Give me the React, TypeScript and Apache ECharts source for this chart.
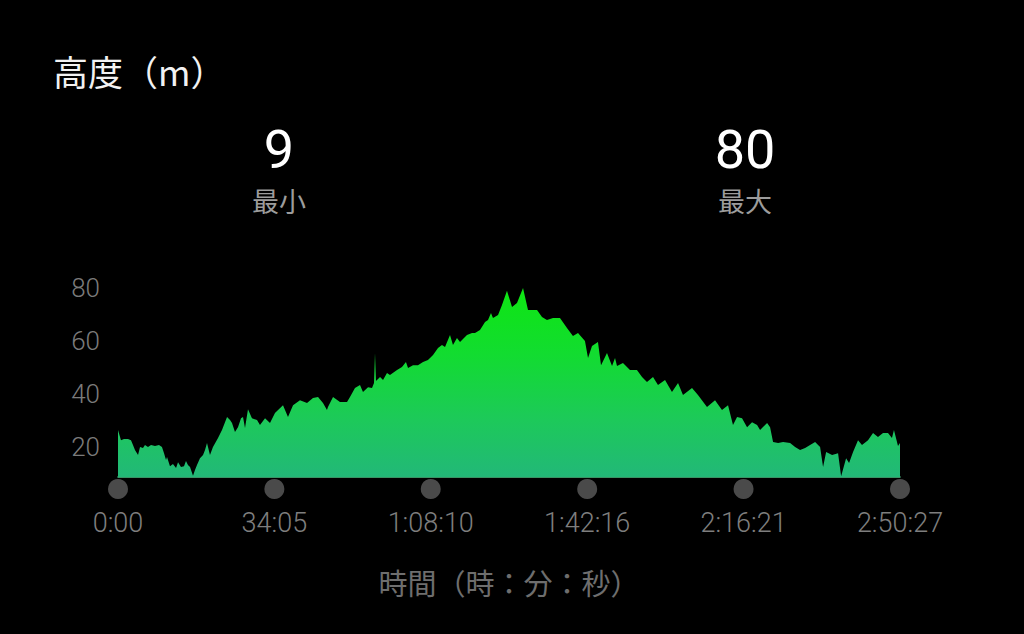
import React, { useEffect, useRef } from "react";
import * as echarts from "echarts";

const chartTitle = "高度（m）";
const xAxisTitle = "時間（時：分：秒）";
const statLabels = ["最小", "最大"];

const timeSeconds = [
  0, 39, 78, 131, 170, 196, 222, 262, 288, 327, 353, 392, 432, 484, 536, 575,
  602, 628, 641, 680, 719, 759, 785, 824, 863, 889, 915, 942, 981, 1007, 1033,
  1072, 1112, 1138, 1164, 1203, 1242, 1308, 1360, 1426, 1465, 1491, 1530, 1569,
  1609, 1635, 1661, 1700, 1752, 1818, 1857, 1923, 1988, 2053, 2093, 2158, 2223,
  2289, 2380, 2472, 2550, 2616, 2681, 2733, 2746, 2812, 2903, 2995, 3034, 3099,
  3165, 3204, 3270, 3322, 3348, 3361, 3374, 3427, 3466, 3518, 3557, 3649, 3714,
  3766, 3793, 3858, 3923, 3989, 4054, 4120, 4185, 4237, 4277, 4342, 4381, 4433,
  4473, 4564, 4630, 4669, 4734, 4800, 4839, 4878, 4904, 4970, 5022, 5087, 5153,
  5218, 5297, 5362, 5480, 5545, 5610, 5689, 5780, 5872, 5950, 6016, 6107, 6147,
  6199, 6277, 6317, 6395, 6461, 6500, 6526, 6604, 6696, 6787, 6853, 6918, 6997,
  7062, 7154, 7245, 7324, 7389, 7507, 7585, 7703, 7808, 7899, 7978, 8043, 8096,
  8161, 8227, 8292, 8358, 8397, 8489, 8528, 8567, 8633, 8698, 8790, 8855, 8920,
  8986, 9051, 9117, 9182, 9221, 9261, 9339, 9417, 9457, 9522, 9561, 9613, 9678,
  9730, 9809, 9874, 9939, 10005, 10070, 10122, 10148, 10201, 10227,
];

const elevation = [
  26.4, 22.6, 23.0, 23.0, 22.6, 20.8, 18.9, 17.0, 20.0, 19.6, 20.8, 20.0, 20.8,
  20.4, 20.8, 20.0, 17.7, 15.1, 16.2, 12.8, 13.6, 12.1, 14.3, 12.5, 12.8, 14.7,
  13.2, 12.5, 9.2, 11.3, 13.2, 15.8, 17.0, 18.9, 21.5, 17.0, 20.0, 23.4, 26.4,
  31.3, 30.2, 29.1, 25.7, 27.5, 30.9, 31.3, 27.2, 34.3, 30.9, 30.2, 28.3, 30.9,
  29.1, 32.8, 34.0, 35.8, 31.3, 35.8, 37.7, 36.6, 38.5, 38.9, 36.6, 34.0, 35.1,
  38.9, 37.0, 37.0, 38.9, 42.3, 43.4, 40.8, 42.6, 42.3, 44.2, 55.5, 44.9, 46.4,
  45.3, 47.9, 47.2, 49.1, 50.2, 52.1, 49.8, 50.9, 50.9, 52.1, 52.8, 54.7, 57.4,
  58.5, 57.7, 62.3, 58.5, 61.1, 59.6, 62.3, 63.0, 63.0, 64.2, 67.2, 67.9, 70.6,
  68.7, 69.8, 73.6, 79.0, 72.8, 74.3, 80.0, 71.7, 71.7, 69.1, 67.9, 68.7, 68.7,
  64.9, 61.9, 63.0, 60.0, 53.6, 58.1, 59.6, 50.9, 55.5, 50.6, 53.6, 50.6, 51.7,
  49.1, 49.1, 46.4, 44.5, 46.4, 43.4, 45.3, 40.8, 44.2, 39.6, 42.3, 39.6, 35.1,
  37.7, 34.0, 35.8, 28.3, 31.3, 30.9, 27.5, 29.4, 28.3, 26.4, 29.1, 27.5, 21.9,
  21.5, 21.9, 21.5, 20.0, 18.9, 19.6, 20.8, 21.9, 20.0, 12.5, 18.1, 17.0, 17.7,
  9.0, 15.8, 14.0, 18.1, 22.6, 20.8, 22.6, 25.3, 23.8, 25.3, 25.3, 23.4, 26.4,
  20.4, 21.5,
];

const xTickSeconds = [0, 2045, 4090, 6136, 8181, 10227];
const xTickLabels = ["0:00", "34:05", "1:08:10", "1:42:16", "2:16:21", "2:50:27"];
const yTickValues = [20, 40, 60, 80];

export default function App() {
  const ref = useRef<HTMLDivElement>(null);

  useEffect(() => {
    document.body.style.margin = "0";
    document.body.style.background = "#000";
    const chart = echarts.init(ref.current!, undefined, { renderer: "svg" });
    const yMin = 8.7;
    const minVal = Math.round(Math.min(...elevation));
    const maxVal = Math.round(Math.max(...elevation));
    const statValues = [minVal, maxVal];
    const statX = [279, 745];

    chart.setOption({
      animation: false,
      backgroundColor: "#000000",
      grid: { left: 118, right: 124, top: 282.7, bottom: 157, containLabel: false },
      xAxis: {
        type: "value",
        min: 0,
        max: 10227,
        name: xAxisTitle,
        nameLocation: "middle",
        nameGap: 90,
        nameTextStyle: {
          color: "#6e6e6e",
          fontSize: 29,
          fontFamily: "Noto Sans CJK JP",
        },
        axisLine: { show: true, lineStyle: { color: "#4cc486", width: 1.5 } },
        axisTick: { show: false },
        splitLine: { show: false },
        axisLabel: {
          customValues: xTickSeconds,
          formatter: (v: number) => {
            const i = xTickSeconds.indexOf(v);
            return i >= 0 ? xTickLabels[i] : "";
          },
          color: "#7e7e7e",
          fontSize: 27,
          fontFamily: "Roboto",
          fontWeight: 300,
          margin: 32,
          showMinLabel: true,
          showMaxLabel: true,
        },
      },
      yAxis: {
        type: "value",
        min: yMin,
        max: 82,
        axisLine: { show: false },
        axisTick: { show: false },
        splitLine: { show: false },
        axisLabel: {
          customValues: yTickValues,
          color: "#7b7b7b",
          fontSize: 26,
          fontFamily: "Roboto",
          fontWeight: 300,
          margin: 18,
        },
      },
      graphic: [
        {
          type: "text",
          left: 53,
          top: 53,
          style: {
            text: chartTitle,
            fill: "#f2f2f2",
            fontSize: 35,
            fontFamily: "Noto Sans CJK JP",
          },
        },
        ...statValues.map((v, i) => ({
          type: "text",
          x: statX[i],
          y: 149,
          style: {
            text: String(v),
            fill: "#ffffff",
            fontSize: 54,
            fontFamily: "Roboto",
            align: "center",
            verticalAlign: "middle",
          },
        })),
        ...statLabels.map((s, i) => ({
          type: "text",
          x: statX[i],
          y: 200,
          style: {
            text: s,
            fill: "#9c9c9c",
            fontSize: 27,
            fontFamily: "Noto Sans CJK JP",
            align: "center",
            verticalAlign: "middle",
          },
        })),
      ],
      series: [
        {
          type: "line",
          data: timeSeconds.map((t, i) => [t, elevation[i]]),
          showSymbol: false,
          symbol: "none",
          lineStyle: { width: 0 },
          areaStyle: {
            origin: "start",
            opacity: 1,
            color: new echarts.graphic.LinearGradient(0, 0, 0, 1, [
              { offset: 0, color: "#0ee612" },
              { offset: 0.35, color: "#12dc30" },
              { offset: 0.7, color: "#1dc95a" },
              { offset: 1, color: "#22b878" },
            ]),
          },
          z: 2,
        },
        {
          type: "scatter",
          data: xTickSeconds.map((t) => [t, yMin]),
          symbol: "circle",
          symbolSize: 20,
          symbolOffset: [0, 12],
          itemStyle: { color: "#5c5c5c" },
          clip: false,
          silent: true,
          z: 3,
        },
      ],
    });
    return () => chart.dispose();
  }, []);

  return <div ref={ref} style={{ width: 1024, height: 634, background: "#000" }} />;
}
